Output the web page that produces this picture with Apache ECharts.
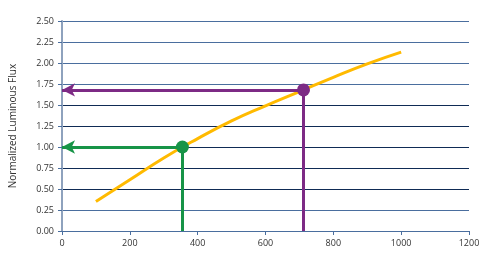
<!DOCTYPE html>
<html><head><meta charset="utf-8">
<script src="https://cdn.jsdelivr.net/npm/echarts@6/dist/echarts.min.js"></script>
<style>html,body{margin:0;padding:0;background:#fff}#c{width:489px;height:269px}</style>
</head><body><div id="c"></div>
<script>
var curveX = [100, 200, 300, 400, 500, 600, 700, 800, 900, 1000];
var curveY = [0.35, 0.61, 0.87, 1.10, 1.31, 1.49, 1.66, 1.83, 1.99, 2.13];
var greenPoint = [355, 1.00];
var purplePoint = [712, 1.68];
var yAxisName = 'Normalized Luminous Flux';

var chart = echarts.init(document.getElementById('c'));
var font = 'Open Sans';
function guide(pt, color) {
  return {
    type: 'scatter', data: [pt], symbolSize: 13, itemStyle: {color: color, opacity: 1}, z: 5,
    markLine: {
      silent: true, animation: false,
      label: {show: false},
      lineStyle: {color: color, width: 3, type: 'solid', opacity: 1},
      data: [
        [{coord: [pt[0], pt[1]], symbol: 'none'}, {coord: [0, pt[1]], symbol: 'arrow', symbolSize: [10, 13]}],
        [{coord: [pt[0], pt[1]], symbol: 'none'}, {coord: [pt[0], 0], symbol: 'none'}]
      ]
    }
  };
}
var splitColors = ['#0f2b55', '#4a6e9e', '#0f2b55', '#0f2b55', '#0f2b55', '#0f2b55', '#0f2b55', '#4a6e9e', '#4a6e9e', '#4a6e9e', '#4a6e9e'];
chart.setOption({
  animation: false,
  grid: {left: 61, right: 20, top: 21, bottom: 38, containLabel: false},
  xAxis: {
    type: 'value', min: 0, max: 1200, interval: 200,
    axisLine: {show: true, lineStyle: {color: '#4a6e9e', width: 1}},
    axisTick: {show: true, length: 4, lineStyle: {color: '#4a6e9e'}},
    axisLabel: {color: '#333', fontFamily: font, fontSize: 9, margin: 8, formatter: function(v){return String(v);}},
    splitLine: {show: false}
  },
  yAxis: {
    type: 'value', min: 0, max: 2.5, interval: 0.25,
    name: yAxisName, nameLocation: 'middle', nameGap: 44, nameRotate: 90,
    nameTextStyle: {color: '#333', fontFamily: font, fontSize: 10},
    axisLine: {show: true, onZero: false, lineStyle: {color: '#8ea2bd', width: 2}},
    axisTick: {show: true, length: 4, lineStyle: {color: '#4a6e9e'}},
    axisLabel: {color: '#333', fontFamily: font, fontSize: 9, margin: 8, formatter: function(v){return v.toFixed(2);}},
    splitLine: {show: true, lineStyle: {color: splitColors, width: 1}}
  },
  series: [
    {type: 'line', data: curveX.map(function(x, i){return [x, curveY[i]];}), smooth: true, showSymbol: false,
     lineStyle: {color: '#FFBA00', width: 3}, z: 3},
    guide(greenPoint, '#179447'),
    guide(purplePoint, '#7d2a85')
  ]
});
</script></body></html>
